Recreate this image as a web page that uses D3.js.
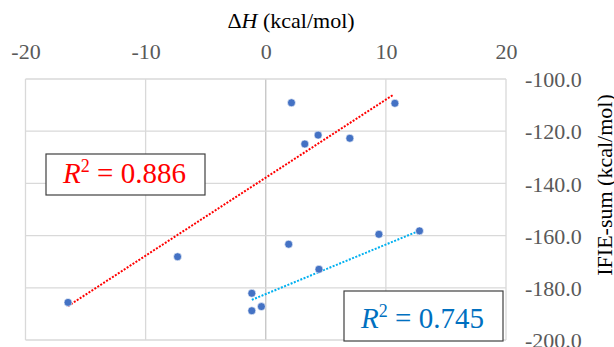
<!DOCTYPE html>
<html>
<head>
<meta charset="utf-8">
<script src="https://cdn.jsdelivr.net/npm/d3@7"></script>
<style>
  body { margin: 0; background: #fff; }
  svg { display: block; }
  svg text { font-family: "Liberation Serif", "Times New Roman", "DejaVu Serif", serif; }
</style>
</head>
<body>
<div class="chart_container"></div>
<script>
// group with the red trend line
var redX = [-16.46, -7.34, 2.14, 3.25, 4.36, 7.0, 10.75];
var redY = [-185.6, -168.1, -109.1, -124.9, -121.5, -122.7, -109.3];
// group with the blue trend line
var blueX = [-1.16, -1.16, -0.36, 1.91, 4.43, 9.42, 12.8];
var blueY = [-182.1, -188.8, -187.2, -163.3, -172.9, -159.5, -158.2];
// trend line ends
var redTrendX = [-16.46, 10.6];
var redTrendY = [-187.0, -106.1];
var blueTrendX = [-1.16, 12.8];
var blueTrendY = [-184.6, -158.1];

var xTicks = [-20, -10, 0, 10, 20];
var yTicks = [-100, -120, -140, -160, -180, -200];
var r2Labels = ["0.886", "0.745"];

var width = 614, height = 347;
var serif = '"Liberation Serif", "Times New Roman", serif';

var svg = d3.select(".chart_container").append("svg")
    .attr("width", width)
    .attr("height", height);

var x = d3.scaleLinear().domain([-20, 20]).range([25.5, 506]);
var y = d3.scaleLinear().domain([-100, -200]).range([79, 340]);

// grid
var grid = svg.append("g");
grid.selectAll(".vgrid").data(xTicks).enter().append("line")
    .attr("x1", function(d){ return x(d); })
    .attr("x2", function(d){ return x(d); })
    .attr("y1", y(-100)).attr("y2", y(-200))
    .attr("stroke", function(d){ return d === 0 ? "#c4c4c4" : "#d9d9d9"; })
    .attr("stroke-width", 1.3);
grid.selectAll(".hgrid").data(yTicks).enter().append("line")
    .attr("y1", function(d){ return y(d); })
    .attr("y2", function(d){ return y(d); })
    .attr("x1", x(-20)).attr("x2", x(20))
    .attr("stroke", "#d9d9d9")
    .attr("stroke-width", 1.3);

// axes: labels on top and on the right
var xAxis = svg.append("g")
    .attr("transform", "translate(0,59)")
    .call(d3.axisTop(x).tickValues(xTicks).tickSize(0).tickFormat(function(d){ return String(d); }));
xAxis.attr("font-family", null);
xAxis.select(".domain").remove();
xAxis.selectAll("text")
    .style("font-family", serif)
    .style("font-size", "22px")
    .attr("fill", "#595959")
    .attr("y", 0).attr("dy", 0);

var yAxis = svg.append("g")
    .attr("transform", "translate(525,0)")
    .call(d3.axisRight(y).tickValues(yTicks).tickSize(0).tickFormat(function(d){ return d.toFixed(1); }));
yAxis.attr("font-family", null);
yAxis.select(".domain").remove();
yAxis.selectAll("text")
    .style("font-family", serif)
    .style("font-size", "22px")
    .attr("fill", "#595959")
    .attr("x", 0)
    .attr("dy", "0.35em")
    .attr("text-anchor", "start");

// axis titles
var xTitle = svg.append("text")
    .attr("x", 291).attr("y", 28)
    .attr("text-anchor", "middle")
    .style("font-family", serif)
    .style("font-size", "22px")
    .attr("fill", "#000");
xTitle.append("tspan").text("Δ");
xTitle.append("tspan").attr("font-style", "italic").text("H");
xTitle.append("tspan").text(" (kcal/mol)");

svg.append("text")
    .attr("transform", "translate(612,185) rotate(-90)")
    .attr("text-anchor", "middle")
    .style("font-family", serif)
    .style("font-size", "22px")
    .attr("fill", "#000")
    .text("IFIE-sum (kcal/mol)");

// dotted trend lines
function trend(xs, ys, color){
    svg.append("line")
        .attr("x1", x(xs[0])).attr("y1", y(ys[0]))
        .attr("x2", x(xs[1])).attr("y2", y(ys[1]))
        .attr("stroke", color)
        .attr("stroke-width", 2)
        .attr("stroke-dasharray", "2,1.5");
}
trend(redTrendX, redTrendY, "#ff0000");
trend(blueTrendX, blueTrendY, "#00b0f0");

// points
var pts = redX.map(function(d, i){ return [d, redY[i]]; })
    .concat(blueX.map(function(d, i){ return [d, blueY[i]]; }));
svg.selectAll(".pt").data(pts).enter().append("circle")
    .attr("cx", function(d){ return x(d[0]); })
    .attr("cy", function(d){ return y(d[1]); })
    .attr("r", 4)
    .attr("fill", "#4472c4")
    .attr("stroke", "#ffffff")
    .attr("stroke-width", 0.6);

// R² boxes
function r2Box(bx, by, bw, bh, base, label, color){
    svg.append("rect")
        .attr("x", bx).attr("y", by).attr("width", bw).attr("height", bh)
        .attr("fill", "#fff")
        .attr("stroke", "#404040")
        .attr("stroke-width", 1.2);
    var t = svg.append("text")
        .attr("x", bx + bw / 2 - 1).attr("y", by + base)
        .attr("text-anchor", "middle")
        .style("font-family", serif)
        .style("font-size", "29px")
        .attr("fill", color);
    t.append("tspan").attr("font-style", "italic").text("R");
    t.append("tspan").style("font-size", "18px").attr("dy", -11).text("2");
    t.append("tspan").attr("dy", 11).text(" = " + label);
}
r2Box(46, 154, 159, 41, 29, r2Labels[0], "#ff0000");
r2Box(344, 291, 159, 50, 37, r2Labels[1], "#0070c0");
</script>
</body>
</html>
